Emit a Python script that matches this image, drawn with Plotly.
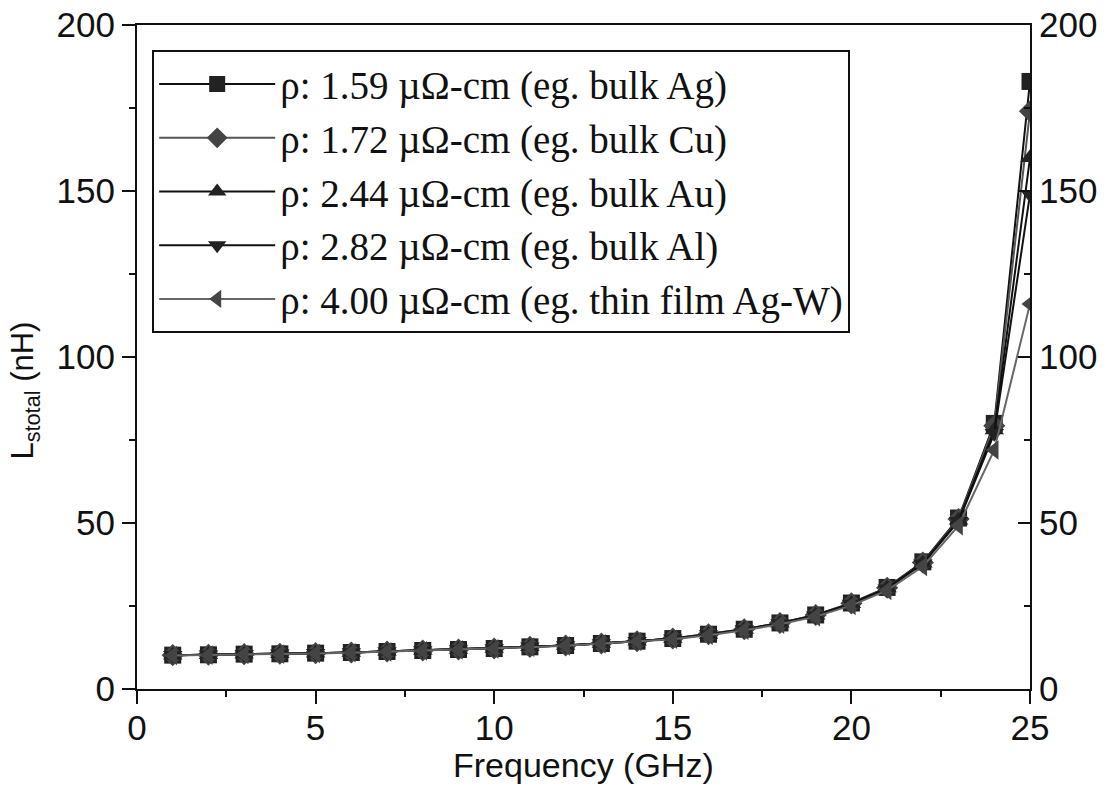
import plotly.graph_objects as go

freq = list(range(1, 26))

rho_ag = [10.2, 10.3, 10.5, 10.6, 10.8, 11.0, 11.3, 11.6, 11.9, 12.2, 12.7, 13.1, 13.7, 14.4, 15.2,
          16.5, 18.0, 19.9, 22.3, 25.9, 30.6, 38.3, 51.5, 80.0, 183.0]
rho_cu = [10.2, 10.3, 10.5, 10.6, 10.8, 11.0, 11.3, 11.6, 11.9, 12.2, 12.7, 13.1, 13.7, 14.4, 15.2,
          16.5, 18.0, 19.9, 22.3, 25.8, 30.5, 38.1, 51.2, 79.3, 174.0]
rho_au = [10.2, 10.3, 10.5, 10.6, 10.8, 11.0, 11.3, 11.6, 11.9, 12.2, 12.7, 13.1, 13.7, 14.4, 15.2,
          16.4, 17.9, 19.8, 22.2, 25.7, 30.4, 37.9, 50.8, 78.0, 160.0]
rho_al = [10.2, 10.3, 10.5, 10.6, 10.8, 11.0, 11.3, 11.6, 11.9, 12.2, 12.7, 13.1, 13.7, 14.4, 15.1,
          16.4, 17.9, 19.7, 22.1, 25.6, 30.2, 37.7, 50.5, 77.0, 149.0]
rho_agw = [10.1, 10.2, 10.4, 10.5, 10.7, 10.9, 11.2, 11.5, 11.8, 12.1, 12.6, 13.0, 13.6, 14.3, 15.0,
           16.2, 17.7, 19.5, 21.8, 25.2, 29.7, 36.9, 49.2, 72.0, 116.0]

labels = ["ρ: 1.59 µΩ-cm (eg. bulk Ag)",
          "ρ: 1.72 µΩ-cm (eg. bulk Cu)",
          "ρ: 2.44 µΩ-cm (eg. bulk Au)",
          "ρ: 2.82 µΩ-cm (eg. bulk Al)",
          "ρ: 4.00 µΩ-cm (eg. thin film Ag-W)"]
series = [rho_ag, rho_cu, rho_au, rho_al, rho_agw]
symbols = ["square", "diamond", "triangle-up", "triangle-down", "triangle-left"]
line_colors = ["#111111", "#555555", "#111111", "#111111", "#666666"]
marker_colors = ["#222222", "#444444", "#222222", "#222222", "#444444"]

x_title = "Frequency (GHz)"
y_title = "L<sub>stotal</sub> (nH)"

fig = go.Figure()
for i, (lab, ys) in enumerate(zip(labels, series)):
    fig.add_trace(go.Scatter(
        x=freq, y=ys, name=lab, mode="lines+markers",
        line=dict(color=line_colors[i], width=2),
        marker=dict(symbol=symbols[i], size=17, color=marker_colors[i]),
    ))

# empty trace so the right-hand axis is drawn
fig.add_trace(go.Scatter(x=[], y=[], yaxis="y2", showlegend=False, hoverinfo="skip"))

sans = "Liberation Sans, Arial, sans-serif"
tick_font = dict(family=sans, size=35, color="#111")

fig.update_layout(
    width=1109, height=790,
    margin=dict(l=137, r=79, t=25, b=101, autoexpand=False),
    paper_bgcolor="white", plot_bgcolor="white",
    showlegend=True,
    legend=dict(
        x=0.017, y=0.962, xanchor="left", yanchor="top",
        bgcolor="white", bordercolor="#111", borderwidth=2,
        font=dict(family="Liberation Serif, Times New Roman, serif", size=39, color="#111"),
        itemwidth=116, traceorder="normal",
    ),
    xaxis=dict(
        range=[0, 25], dtick=5, tick0=0, automargin=False,
        showline=True, linecolor="#111", linewidth=2, mirror=True,
        ticks="outside", ticklen=13, tickwidth=2, tickcolor="#111",
        minor=dict(dtick=2.5, ticks="outside", ticklen=6, tickwidth=2, tickcolor="#111"),
        showgrid=False, zeroline=False,
        tickfont=tick_font, ticklabelstandoff=-6,
    ),
    yaxis=dict(
        range=[0, 200], dtick=50, tick0=0, automargin=False,
        showline=True, linecolor="#111", linewidth=2, mirror=False,
        ticks="outside", ticklen=13, tickwidth=2, tickcolor="#111",
        minor=dict(dtick=25, ticks="outside", ticklen=6, tickwidth=2, tickcolor="#111"),
        showgrid=False, zeroline=False,
        tickfont=tick_font,
    ),
    yaxis2=dict(
        range=[0, 200], dtick=50, tick0=0, overlaying="y", side="right", automargin=False,
        showline=True, linecolor="#111", linewidth=2,
        ticks="inside", ticklen=12, tickwidth=2, tickcolor="#111",
        minor=dict(dtick=25, ticks="inside", ticklen=6, tickwidth=2, tickcolor="#111"),
        showgrid=False, zeroline=False,
        tickfont=tick_font,
    ),
    annotations=[
        dict(text=x_title, xref="paper", yref="paper", x=0.5, y=-0.115,
             xanchor="center", yanchor="middle", showarrow=False,
             font=dict(family=sans, size=34, color="#111")),
        dict(text=y_title, xref="paper", yref="paper", x=-0.125, y=0.45,
             xanchor="center", yanchor="middle", showarrow=False, textangle=-90,
             font=dict(family=sans, size=31, color="#111")),
    ],
)

fig.write_html("out.html", config={"displayModeBar": False},
               post_script="document.body.style.margin='0px';")
